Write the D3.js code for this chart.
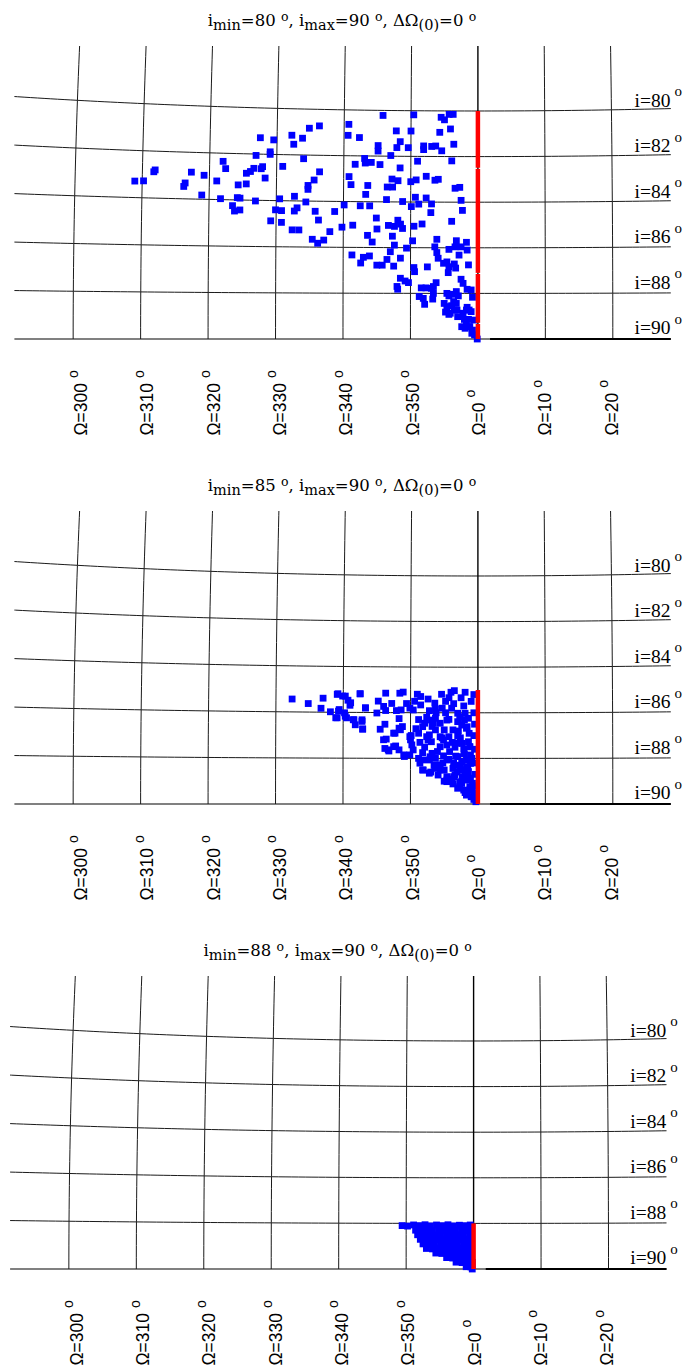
<!DOCTYPE html>
<html>
<head>
<meta charset="utf-8">
<script src="https://cdn.jsdelivr.net/npm/d3@7"></script>
<style>
  html, body { margin: 0; background: #fff; }
  text { white-space: pre; }
</style>
</head>
<body>
<svg id="chart" width="683" height="1371"></svg>
<script>
// Ascending node longitude Ω (degrees, signed about Ω=0) and inclination i (degrees)
const omegaTicks = [-60, -50, -40, -30, -20, -10, 0, 10, 20];
const incTicks = [80, 82, 84, 86, 88, 90];
const panelIMin = [80, 85, 88];
const panelIMax = 90;
const panelDOmega0 = 0;

// ΔΩ = 0 orbits (red), as runs of inclination
const redRuns1 = [[80, 82.49], [82.54, 87.10], [87.15, 89.29], [89.34, 90]];
const redRuns2 = [[85, 90]];
const redRuns3 = [[88, 90]];

// Orbit nodes [Ω, i] for i_min = 80°
const orbits1 = [
  [-14.2,80.22],[-9.6,80.18],[-5.5,80.28],[-5.0,80.39],[-4.3,80.15],[-3.7,80.15],
  [-19.3,80.63],[-23.7,80.72],[-25.2,80.83],[-12.2,80.89],[-10.0,80.89],[-5.7,80.94],[-4.1,80.79],
  [-27.8,81.15],[-26.2,81.27],[-19.4,81.11],[-17.7,81.2],[-32.5,81.29],[-30.5,81.37],[-27.5,81.54],
  [-14.9,81.54],[-14.9,81.78],[-12.1,81.62],[-10.4,81.62],[-11.6,81.36],[-8.1,81.54],[-8.1,81.7],[-6.9,81.56],[-6.3,81.54],[-5.4,81.75],[-3.6,81.46],
  [-33.1,82.06],[-31.0,81.89],[-31.0,82.0],[-26.0,82.16],[-13.0,81.97],[-16.9,82.11],[-16.8,82.31],[-15.9,82.28],[-18.3,82.37],[-14.6,82.37],[-11.6,82.51],[-9.0,82.21],[-3.9,82.19],
  [-38.0,82.35],[-37.6,82.66],[-29.1,82.51],[-33.4,82.62],[-33.9,82.76],[-34.5,82.84],[-32.3,82.63],[-32.1,82.54],[-31.7,83.03],[-23.6,82.72],[-24.4,83.08],[-19.2,82.91],[-18.9,83.26],[-16.4,83.29],[-7.7,82.87],[-6.4,83.04],[-5.9,83.0],[-12.8,83.0],[-11.9,83.07],[-10.0,83.11],[-9.2,83.03],[-3.4,83.39],[-2.7,83.35],
  [-48.1,82.8],[-48.3,82.88],[-51.1,83.3],[-49.8,83.28],[-42.7,82.85],[-40.8,82.97],[-38.9,83.2],[-43.6,83.32],[-43.8,83.47],[-35.7,83.35],[-34.5,83.3],[-25.3,83.32],[-25.3,83.49],[-13.5,83.35],[-12.7,83.35],
  [-41.1,83.82],[-38.3,83.96],[-35.8,83.9],[-35.4,83.92],[-33.1,84.03],[-29.5,83.92],[-27.3,83.8],[-25.6,84.04],[-16.7,83.68],[-13.6,83.9],[-11.2,83.98],[-9.3,83.79],[-7.7,83.82],[-6.9,84.08],[-8.8,84.09],[-9.9,84.2],[-2.5,83.92],[-2.3,84.36],
  [-36.5,84.25],[-36.2,84.48],[-35.4,84.43],[-30.1,84.4],[-29.2,84.43],[-26.9,84.3],[-27.3,84.44],[-24.2,84.44],[-21.3,84.44],[-19.9,84.15],[-17.5,84.18],[-16.1,84.18],
  [-30.8,84.88],[-29.2,84.94],[-23.7,84.82],[-15.1,84.71],[-13.3,85.03],[-11.9,84.8],[-11.5,84.97],[-12.4,85.07],[-11.2,85.16],[-9.5,85.06],[-8.3,84.96],[-7.0,84.46],[-3.9,84.84],
  [-27.6,85.26],[-26.6,85.26],[-22.0,85.32],[-20.2,85.12],[-18.6,85.03],[-16.4,85.47],[-15.0,85.19],[-12.7,85.5],
  [-24.6,85.66],[-23.8,85.83],[-22.9,85.69],[-15.7,85.76],[-12.4,85.89],[-9.7,85.7],[-10.6,86.02],[-6.4,85.96],[-6.1,85.63],[-4.3,86.07],[-3.4,85.96],[-3.2,85.69],[-2.5,85.96],[-1.7,85.76],[-1.6,86.1],[-2.8,86.32],
  [-18.7,86.33],[-16.1,86.37],[-17.0,86.43],[-17.4,86.68],[-13.0,86.18],[-13.5,86.52],[-11.5,86.46],[-15.0,86.77],[-14.2,86.77],[-12.5,86.81],[-9.5,86.87],[-9.4,87.05],[-7.5,86.84],[-6.1,86.21],[-5.9,86.46],[-5.1,86.68],[-4.3,86.83],[-3.5,86.71],[-3.3,86.89],[-4.4,87.09],[-1.4,86.75],[-4.6,86.62],
  [-11.5,87.34],[-10.8,87.46],[-10.3,87.53],[-12.0,87.7],[-11.9,87.82],[-8.4,87.76],[-7.7,87.76],[-6.9,87.78],[-6.2,87.53],[-6.6,87.7],[-2.5,87.38],[-2.2,87.56],[-1.6,87.82],[-1.0,87.85],
  [-8.7,88.14],[-8.1,88.22],[-7.9,88.48],[-6.7,88.25],[-6.6,88.0],[-4.6,88.0],[-4.3,88.11],[-3.7,88.04],[-3.2,87.92],[-2.9,88.11],[-0.8,88.17],[-5.0,88.44],[-3.2,88.44],[-3.9,88.54],
  [-4.8,88.82],[-4.3,88.92],[-3.5,88.73],[-3.0,89.02],[-1.6,88.61],[-1.3,88.73],[-1.0,88.8],[-2.0,89.14],[-1.7,89.34],[-1.2,89.46],[-0.8,89.61],[-0.6,89.17],[-0.5,89.82],[-0.1,90.0],
  [-2.4,89.46],[-1.9,89.53],[-1.3,89.46],[-0.9,89.75],[-1.4,89.14],[-2.2,88.87],[-1.7,88.73],[-3.1,88.73],[-4.1,88.87],[-4.6,88.58],[-3.6,88.36]
];

// Orbit nodes [Ω, i] for i_min = 85°
const orbits2 = [
  [-27.6,85.44],[-25.2,85.63],[-23.0,85.39],[-20.8,85.19],[-20.1,85.29],[-19.3,85.47],[-19.0,85.69],[-17.5,85.19],
  [-13.7,85.15],[-11.6,85.15],[-11.1,85.1],[-9.0,85.19],[-8.5,85.29],[-5.4,85.19],[-4.0,85.1],[-3.5,85.03],[-2.5,85.34],[-1.9,85.1],[-4.3,85.34],
  [-23.3,85.83],[-21.9,85.98],[-20.6,85.88],[-19.8,86.02],[-21.1,86.24],[-19.5,86.24],[-18.5,86.32],[-17.2,86.32],[-18.2,86.54],[-17.1,86.73],
  [-16.7,85.8],[-15.0,86.02],[-14.0,85.73],[-13.7,85.91],[-12.1,85.91],[-11.4,85.88],[-10.1,85.8],[-9.6,85.88],[-8.5,85.66],[-6.4,85.58],[-6.3,85.83],[-7.2,85.91],[-5.3,85.8],[-3.9,85.8],[-3.0,86.02],[-1.9,86.02],[-1.4,86.24],
  [-13.8,86.51],[-14.5,86.73],[-11.7,86.68],[-12.3,86.9],[-11.2,86.61],[-11.7,86.26],[-10.1,87.05],[-8.8,86.9],[-8.2,86.61],[-7.9,86.46],[-6.9,86.32],[-6.3,86.24],[-5.6,86.46],[-4.3,86.29],[-3.0,86.39],[-2.4,86.54],[-1.6,86.61],
  [-3.7,86.75],[-5.0,86.75],[-6.3,86.75],[-7.2,86.97],[-6.9,87.27],[-5.6,87.05],[-4.3,87.05],[-3.0,87.02],[-2.3,87.34],[-1.4,87.27],[-1.2,87.49],[-2.1,87.6],[-3.4,87.51],[-4.6,87.41],[-5.6,87.49],[-7.9,87.51],[-8.2,87.75],[-6.8,87.78],
  [-13.6,87.16],[-13.8,87.57],[-13.2,87.68],[-12.2,87.46],[-11.7,87.63],[-10.9,87.92],[-10.1,87.85],[-9.8,87.41],[-8.8,88.0],[-8.2,88.07],[-7.2,88.07],[-6.3,88.0],[-5.1,87.89],[-4.3,88.04],[-3.0,87.92],[-1.7,88.07],[-1.1,87.85],
  [-8.2,88.51],[-7.2,88.65],[-6.4,88.44],[-5.6,88.29],[-5.0,88.51],[-3.7,88.44],[-2.7,88.36],[-1.7,88.36],[-1.1,88.22],[-5.9,88.73],[-4.6,88.8],[-3.4,88.73],[-2.3,88.8],[-1.4,88.58],
  [-4.6,89.02],[-3.7,89.12],[-2.7,89.02],[-1.7,88.95],[-1.1,88.87],[-3.0,89.31],[-2.1,89.39],[-1.2,89.24],[-0.8,89.09],[-1.7,89.61],[-1.0,89.68],[-0.5,89.53],[-0.3,89.9],[-0.6,89.8],
  [-20.9,85.22],[-19.7,85.29],[-18.9,85.58],[-20.7,85.95],[-20.9,86.24],[-19.7,86.17],[-18.4,86.32],[-17.2,86.39],[-17.1,86.72],[-16.7,85.8],[-17.5,85.18],
  [-6.6,86.46],[-4.6,86.32],[-2.7,86.17],[-1.7,86.68],[-7.6,87.05],[-5.1,87.19],[-3.1,87.34],[-1.2,87.49],[-7.1,87.93],[-4.6,88.07],[-2.4,88.14],
  [-5.6,88.51],[-3.6,88.8],[-1.9,88.65],[-2.7,89.24],[-1.2,89.39],[-0.9,89.68],[-4.6,88.95],[-8.1,88.51],[-8.6,88.21],[-9.6,87.63],[-11.0,87.85],
  [-10.0,87.19],[-12.5,87.49],[-13.3,87.63],[-14.0,87.19],[-12.5,86.9],[-11.5,86.75],
  [-0.6,86.0],[-0.5,86.5],[-0.6,87.0],[-0.5,87.6],[-0.5,88.2],[-0.4,88.7],[-0.4,89.2],
  [-2.0,86.3],[-2.9,86.8],[-3.8,87.3],[-4.2,87.7],[-2.0,87.8],[-3.6,88.2],[-2.2,88.5],[-3.1,88.6],[-0.9,88.0],[-1.6,88.9],[-2.4,89.1],[-3.8,88.9],
  [-5.2,88.2],[-6.0,87.7],[-5.3,87.1],[-6.8,86.6],[-7.6,86.2],[-8.8,86.3],[-9.2,86.7],[-9.9,87.0],[-8.6,87.3],[-7.4,87.2],[-6.2,86.0],[-4.8,86.0],
  [-3.6,85.6],[-2.1,85.7],[-1.0,85.5],[-0.6,85.2],[-4.8,85.5],[-7.4,85.4],[-9.4,85.5],[-10.6,85.6],[-12.8,85.6],[-14.8,85.5],
  [-1.3,86.9],[-2.6,87.1],[-3.3,87.9],[-1.5,88.4],[-2.9,88.3],[-0.8,89.4],[-1.9,89.5],[-6.5,88.3],[-7.0,88.6],[-5.0,89.0]
];

// Orbit nodes [Ω, i] for i_min = 88°
const orbits3 = [
  [-10.6,88.1],[-9.8,88.12],[-8.9,88.07],[-8.1,88.1],[-7.2,88.06],[-6.4,88.11],[-5.5,88.07],[-4.7,88.1],[-3.8,88.06],[-3.0,88.11],[-2.1,88.08],[-1.3,88.1],[-0.5,88.07],
  [-8.6,88.3],[-7.8,88.32],[-6.9,88.28],[-6.1,88.31],[-5.2,88.3],[-4.4,88.33],[-3.5,88.28],[-2.7,88.31],[-1.8,88.3],[-1.0,88.32],[-0.3,88.29],
  [-8.3,88.5],[-7.4,88.52],[-6.6,88.49],[-5.7,88.51],[-4.9,88.5],[-4.0,88.52],[-3.2,88.48],[-2.3,88.51],[-1.5,88.5],[-0.6,88.52],
  [-7.9,88.7],[-7.0,88.72],[-6.2,88.69],[-5.3,88.71],[-4.5,88.7],[-3.6,88.72],[-2.8,88.69],[-1.9,88.71],[-1.1,88.7],[-0.3,88.72],
  [-7.5,88.9],[-6.6,88.92],[-5.8,88.89],[-4.9,88.91],[-4.1,88.9],[-3.2,88.92],[-2.4,88.89],[-1.5,88.91],[-0.7,88.9],
  [-7.0,89.1],[-6.1,89.12],[-5.3,89.09],[-4.4,89.11],[-3.6,89.1],[-2.7,89.12],[-1.9,89.09],[-1.0,89.11],[-0.3,89.1],
  [-5.6,89.3],[-4.7,89.32],[-3.9,89.29],[-3.0,89.31],[-2.2,89.3],[-1.3,89.32],[-0.5,89.3],
  [-4.0,89.5],[-3.1,89.52],[-2.3,89.49],[-1.4,89.51],[-0.6,89.5],
  [-2.6,89.7],[-1.7,89.72],[-0.9,89.69],[-0.2,89.71],
  [-1.1,89.9],[-0.4,89.91],[-0.2,90.0]
];

const panels = [
  { iMin: panelIMin[0], orbits: orbits1, red: redRuns1, dx: 0,    dy: 0   },
  { iMin: panelIMin[1], orbits: orbits2, red: redRuns2, dx: 0,    dy: 465 },
  { iMin: panelIMin[2], orbits: orbits3, red: redRuns3, dx: -4.3, dy: 930 }
];

// Aitoff projection of (Ω, i); i = 90° lies on the equator
const rad = Math.PI / 180;
function aitoff(omegaDeg, incDeg) {
  const lam = omegaDeg * rad, phi = (90 - incDeg) * rad;
  const cphi = Math.cos(phi);
  const a = Math.acos(Math.max(-1, Math.min(1, cphi * Math.cos(lam / 2))));
  const k = a < 1e-9 ? 1 : a / Math.sin(a);
  return [2 * cphi * Math.sin(lam / 2) * k, Math.sin(phi) * k];
}

// Frame of one panel (local coordinates)
const frame = { left: 14.4, right: 670.8, top: 46, bottom: 342 };
const x = d3.scaleLinear().domain([0, 1]).range([477.9, 477.9 + 386.5]);
const y = d3.scaleLinear().domain([0, 1]).range([339, 339 - 1306.4]);
const px = (o, i) => x(aitoff(o, i)[0]);
const py = (o, i) => y(aitoff(o, i)[1]);
const line = d3.line().x(d => px(d[0], d[1])).y(d => py(d[0], d[1]));

const svg = d3.select("#chart");
const serif = "'Liberation Serif', 'Times New Roman', serif";
const sans = "'Liberation Sans', Arial, sans-serif";
const titleFont = "'DejaVu Serif', serif";

// edge values of the frame in (Ω, i)
const omegaRight = x.invert(frame.right) / rad;
const incTop = 90 - y.invert(frame.top) / rad;

panels.forEach((p, k) => {
  const g = svg.append("g").attr("transform", `translate(${p.dx},${p.dy})`);

  // title
  const parts = [
    { t: "i", s: 16.5, dy: 0 }, { t: "min", s: 14.5, dy: 3.5 },
    { t: `=${p.iMin} `, s: 16.5, dy: -3.5 }, { t: "o", s: 12.5, dy: -5.3 },
    { t: ", i", s: 16.5, dy: 5.3 }, { t: "max", s: 14.5, dy: 3.5 },
    { t: `=${panelIMax} `, s: 16.5, dy: -3.5 }, { t: "o", s: 12.5, dy: -5.3 },
    { t: ", \u0394\u03A9", s: 16.5, dy: 5.3 }, { t: "(0)", s: 14.5, dy: 3.5 },
    { t: `=${panelDOmega0} `, s: 16.5, dy: -3.5 }, { t: "o", s: 12.5, dy: -5.3 }
  ];
  const title = g.append("text")
    .attr("x", 342).attr("y", 26)
    .attr("text-anchor", "middle")
    .attr("font-family", titleFont)
    .attr("fill", "#000");
  parts.forEach(d => title.append("tspan").attr("dy", d.dy).attr("font-size", d.s).text(d.t));

  // grid clipped to the frame
  const clipId = `clip${k}`;
  g.append("clipPath").attr("id", clipId).append("rect")
    .attr("x", frame.left).attr("y", frame.top)
    .attr("width", frame.right - frame.left).attr("height", frame.bottom - frame.top);
  const grid = g.append("g").attr("clip-path", `url(#${clipId})`);

  const omegaSamples = d3.range(-80, 40.01, 1);
  incTicks.filter(i => i < 90).forEach(i => {
    grid.append("path")
      .attr("d", line(omegaSamples.map(o => [o, i])))
      .attr("fill", "none").attr("stroke", "#1a1a1a").attr("stroke-width", 1);
  });
  // equator i = 90°
  grid.append("path")
    .attr("d", line(omegaSamples.map(o => [o, 90])))
    .attr("fill", "none").attr("stroke", "#808080").attr("stroke-width", 1.8);

  const incSamples = d3.range(90, 74.99, -0.5);
  omegaTicks.forEach(o => {
    grid.append("path")
      .attr("d", line(incSamples.map(i => [o, i])))
      .attr("fill", "none")
      .attr("stroke", o === 0 ? "#000" : "#1a1a1a")
      .attr("stroke-width", o === 0 ? 1.4 : 1);
  });

  // prograde side of the equator
  g.append("path")
    .attr("d", line([[1.8, 90], [omegaRight, 90]]))
    .attr("stroke", "#000").attr("stroke-width", 2.2);

  // orbits
  const sq = 6.8;
  g.append("g").selectAll("rect").data(p.orbits).join("rect")
    .attr("x", d => px(d[0], d[1]) - sq / 2)
    .attr("y", d => py(d[0], d[1]) - sq / 2)
    .attr("width", sq).attr("height", sq)
    .attr("fill", "#0000ff");

  // ΔΩ = 0 orbits
  g.append("g").selectAll("path").data(p.red).join("path")
    .attr("d", r => line([[0, r[0]], [0, r[1]]]))
    .attr("stroke", "#ff0000").attr("stroke-width", 4.5).attr("fill", "none");

  // inclination labels on the right
  incTicks.forEach(i => {
    const ly = py(omegaRight, i) - 2 - 0.27 * (i - 80);
    g.append("text")
      .attr("x", 670.5).attr("y", ly)
      .attr("text-anchor", "end")
      .attr("font-family", serif).attr("font-size", 19.5)
      .text(`i=${i}`);
    g.append("text")
      .attr("x", 674.5).attr("y", ly - 10.6)
      .attr("font-family", serif).attr("font-size", 15)
      .text("o");
  });

  // node longitude labels below
  omegaTicks.forEach(o => {
    const bx = px(o, incTop) + 7;
    const t = g.append("text")
      .attr("transform", `translate(${bx},435.5) rotate(-90)`)
      .attr("font-family", sans).attr("font-size", 17.5);
    t.append("tspan").text(`\u03A9=${(o + 360) % 360}`);
    t.append("tspan").attr("dx", 5).attr("dy", -9.5).attr("font-size", 14).text("o");
  });
});
</script>
</body>
</html>
